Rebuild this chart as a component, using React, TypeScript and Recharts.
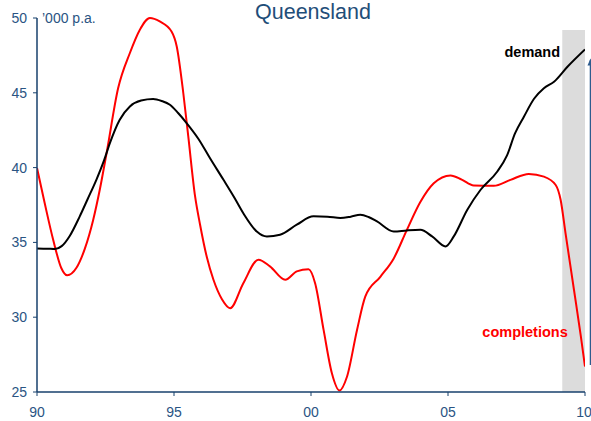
import React from 'react';
import { LineChart, Line, XAxis, YAxis, ReferenceArea, ReferenceLine, ReferenceDot } from 'recharts';

const demandYears = [1990.0, 1990.4, 1990.65, 1990.9, 1991.2, 1991.56, 1991.85, 1992.17, 1992.45, 1992.66, 1993.02, 1993.39, 1993.8, 1994.24, 1994.55, 1994.85, 1995.15, 1995.46, 1995.9, 1996.31, 1996.8, 1997.2, 1997.53, 1998.02, 1998.39, 1998.87, 1999.48, 2000.09, 2000.6, 2001.07, 2001.45, 2001.8, 2002.1, 2002.41, 2003.02, 2003.5, 2003.99, 2004.42, 2004.91, 2005.21, 2005.7, 2006.19, 2006.8, 2007.15, 2007.45, 2007.77, 2008.14, 2008.5, 2008.87, 2009.36, 2010.0];
const demandValues = [34.6, 34.58, 34.56, 34.75, 35.45, 36.74, 37.9, 39.2, 40.5, 41.64, 43.2, 44.09, 44.48, 44.58, 44.45, 44.2, 43.65, 42.98, 41.9, 40.64, 39.2, 38.0, 36.95, 35.73, 35.4, 35.51, 36.18, 36.74, 36.72, 36.63, 36.72, 36.85, 36.7, 36.4, 35.73, 35.8, 35.84, 35.4, 34.73, 35.4, 37.17, 38.52, 39.74, 40.8, 42.3, 43.4, 44.6, 45.3, 45.74, 46.74, 47.9];

const completionsYears = [1990.0, 1990.28, 1990.59, 1990.89, 1991.1, 1991.44, 1991.75, 1992.05, 1992.3, 1992.54, 1992.96, 1993.39, 1993.75, 1994.12, 1994.48, 1994.91, 1995.1, 1995.34, 1995.52, 1995.77, 1995.95, 1996.2, 1996.44, 1996.75, 1997.05, 1997.53, 1998.08, 1998.5, 1999.06, 1999.48, 1999.91, 2000.15, 2000.46, 2000.76, 2001.04, 2001.31, 2001.68, 2001.98, 2002.53, 2003.02, 2003.5, 2003.99, 2004.48, 2005.09, 2005.5, 2005.94, 2006.67, 2007.28, 2007.95, 2008.5, 2008.93, 2009.11, 2009.29, 2009.6, 2009.85, 2010.0];
const completionsValues = [39.97, 37.63, 35.18, 33.27, 32.8, 33.3, 34.6, 36.5, 38.6, 40.97, 45.3, 47.66, 49.2, 50.0, 49.77, 49.1, 48.1, 44.97, 42.1, 38.07, 36.2, 34.0, 32.5, 31.2, 30.6, 32.27, 33.84, 33.4, 32.5, 33.06, 33.2, 32.27, 29.15, 26.27, 25.1, 26.0, 29.15, 31.37, 32.7, 33.93, 35.84, 37.7, 38.95, 39.48, 39.2, 38.8, 38.78, 39.18, 39.58, 39.4, 38.84, 37.85, 35.6, 31.8, 28.7, 26.7];

const xTicks = [1990, 1995, 2000, 2005, 2010];
const xTickLabels = ['90', '95', '00', '05', '10'];
const yTicks = [25, 30, 35, 40, 45, 50];

const forecastStart = 2009.17;
const forecastEnd = 2010;
const forecastTop = 49.2;

const gapX = 2010.2;
const gapLow = 26.8;
const gapHigh = 47.3;

const demandData = demandYears.map((year, i) => ({ year, v: demandValues[i] }));
const completionsData = completionsYears.map((year, i) => ({ year, v: completionsValues[i] }));

const FONT = "Arial, 'Liberation Sans', sans-serif";
const AXIS = '#17406D';
const LABEL = '#2A5483';

const ArrowShape = (p: any) => {
  const x = p.x1;
  const yTop = Math.min(p.y1, p.y2);
  const yBot = Math.max(p.y1, p.y2);
  return (
    <g>
      <line x1={x} y1={yTop + 2} x2={x} y2={yBot} stroke="#2E5C8E" strokeWidth={1.5} />
      <polygon points={`${x},${yTop} ${x - 3},${yTop + 7} ${x + 3},${yTop + 7}`} fill="#2E5C8E" />
    </g>
  );
};

const textDot = (label: string, color: string) => (p: any) => (
  <text x={p.cx} y={p.cy} textAnchor="end" fontFamily={FONT} fontWeight="bold" fontSize={14.5} fill={color}>
    {label}
  </text>
);

export default function App() {
  return (
    <div style={{ position: 'absolute', left: 0, top: 0 }}>
      <LineChart width={591} height={421} margin={{ top: 18, right: 6, left: 0, bottom: 0 }}>
        <XAxis
          type="number"
          dataKey="year"
          domain={[1990, 2010]}
          ticks={xTicks}
          tickFormatter={(v: number) => xTickLabels[xTicks.indexOf(v)] ?? ''}
          allowDataOverflow
          stroke={AXIS}
          tickSize={4}
          tickMargin={11}
          height={29}
          tick={{ fill: LABEL, fontSize: 14, fontFamily: FONT }}
          axisLine={{ stroke: AXIS, strokeWidth: 1.5 }}
          tickLine={{ stroke: AXIS }}
        />
        <YAxis
          type="number"
          domain={[25, 50]}
          ticks={yTicks}
          width={37}
          stroke={AXIS}
          tickSize={4}
          tickMargin={6}
          tick={{ fill: LABEL, fontSize: 14, fontFamily: FONT }}
          axisLine={{ stroke: AXIS, strokeWidth: 1.5 }}
          tickLine={{ stroke: AXIS }}
        />
        <ReferenceArea x1={forecastStart} x2={forecastEnd} y1={25} y2={forecastTop} fill="#DCDCDC" fillOpacity={1} stroke="none" />
        <Line data={completionsData} dataKey="v" type="monotone" stroke="#FF0000" strokeWidth={2} dot={false} isAnimationActive={false} />
        <Line data={demandData} dataKey="v" type="monotone" stroke="#000000" strokeWidth={2} dot={false} isAnimationActive={false} />
        <ReferenceLine
          segment={[{ x: gapX, y: gapLow }, { x: gapX, y: gapHigh }]}
          ifOverflow="visible"
          shape={ArrowShape}
        />
        <ReferenceDot x={2009.09} y={47.37} r={0} ifOverflow="visible" shape={textDot('demand', '#000000')} />
        <ReferenceDot x={2009.37} y={28.68} r={0} ifOverflow="visible" shape={textDot('completions', '#FF0000')} />
        <text x={313} y={19} textAnchor="middle" fontFamily={FONT} fontSize={21.5} fill="#1F4E79">Queensland</text>
        <text x={42} y={23} fontFamily={FONT} fontSize={14} fill={LABEL}>’000 p.a.</text>
      </LineChart>
    </div>
  );
}
